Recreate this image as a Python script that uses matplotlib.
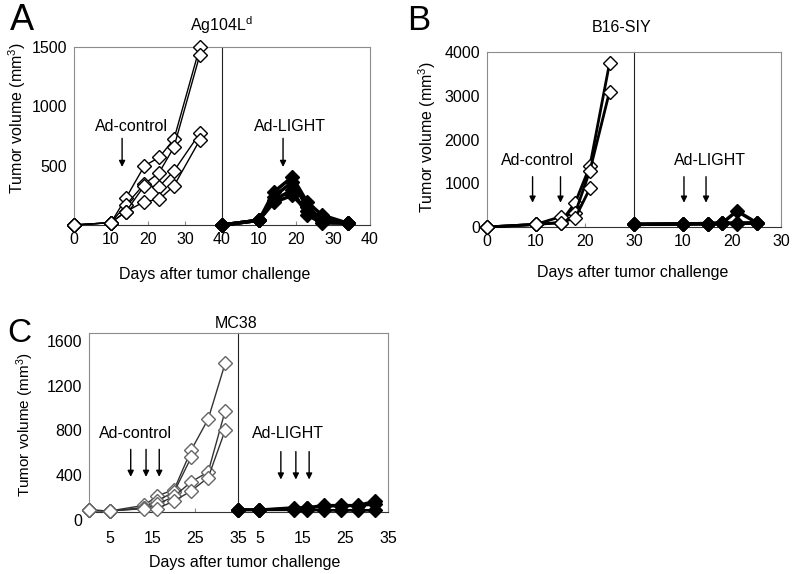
import matplotlib
matplotlib.use('Agg')
import matplotlib.pyplot as plt
from matplotlib.transforms import ScaledTranslation

plt.rcParams['font.family'] = ['Liberation Sans', 'DejaVu Sans']
plt.rcParams['mathtext.fontset'] = 'custom'
plt.rcParams['mathtext.rm'] = 'Liberation Sans'
plt.rcParams['mathtext.it'] = 'Liberation Sans:italic'

# ---------------- data ----------------
# Panel A : Ag104L^d
A_days = [0, 10, 14, 19, 23, 27, 34]
A_ctrl_1 = [0, 20, 225, 497, 570, 722, 1500]
A_ctrl_2 = [0, 20, 168, 345, 441, 655, 1433]
A_ctrl_3 = [0, 20, 112, 330, 323, 455, 773]
A_ctrl_4 = [0, 20, 112, 197, 216, 329, 716]
A_light_1 = [0, 40, 278, 405, 194, 84, 15]
A_light_2 = [0, 40, 240, 362, 150, 50, 15]
A_light_3 = [0, 40, 210, 295, 84, 17, 15]
A_light_4 = [0, 40, 190, 250, 120, 30, 15]

# Panel B : B16-SIY
B_days = [0, 10, 15, 18, 21, 25]
B_ctrl_1 = [0, 60, 100, 555, 1394, 3741]
B_ctrl_2 = [0, 60, 235, 320, 1287, 3093]
B_ctrl_3 = [0, 60, 100, 205, 884]
B_light_1 = [60, 70, 80, 90, 365, 100]
B_light_2 = [60, 70, 75, 85, 90, 95]
B_light_3 = [60, 70, 75, 85, 80, 90]

# Panel C : MC38
C_days = [0, 5, 13, 16, 20, 24, 28, 32]
C_ctrl_1 = [15, 10, 60, 144, 200, 553, 831, 1331]
C_ctrl_2 = [15, 10, 40, 100, 180, 488]
C_ctrl_3 = [15, 10, 33, 69, 140, 269, 359, 906]
C_ctrl_4 = [15, 10, 30, 30, 99, 188, 308, 733]
C_light_1 = [20, 20, 40, 40, 60, 60, 60, 99]
C_light_2 = [20, 20, 20, 20, 15, 15, 15, 15]
C_light_3 = [20, 20, 30, 35, 50, 55, 55, 70]

A_xticks_left = [0, 10, 20, 30, 40]
A_xticks_right = [10, 20, 30, 40]
A_yticks = [500, 1000, 1500]
B_xticks_left = [0, 10, 20, 30]
B_xticks_right = [10, 20, 30]
B_yticks = [0, 1000, 2000, 3000, 4000]
C_xticks_left = [5, 15, 25, 35]
C_xticks_right = [5, 15, 25, 35]
C_yticks = [0, 400, 800, 1200, 1600]

# ---------------- figure ----------------
W, H = 800, 574
fig = plt.figure(figsize=(8, 5.74), dpi=100)
FS = 11.5
GRAY = '#8c8c8c'


def ax_at(x0, x1, y0, y1):
    return fig.add_axes([x0 / W, 1 - y1 / H, (x1 - x0) / W, (y1 - y0) / H])


def style_pair(axL, axR, xlim, ylim, xtl, xtr, yt, xpad=5):
    for ax in (axL, axR):
        ax.set_xlim(*xlim)
        ax.set_ylim(*ylim)
        ax.set_facecolor('none')
        ax.tick_params(axis='x', direction='in', length=3, color=GRAY,
                       labelsize=FS, pad=xpad)
        ax.tick_params(axis='y', length=0, labelsize=FS, pad=5)
        ax.spines['top'].set_color(GRAY)
        ax.spines['bottom'].set_color('#333333')
    axL.spines['left'].set_color(GRAY)
    axL.spines['right'].set_color('#222222')
    axR.spines['left'].set_visible(False)
    axR.spines['right'].set_color(GRAY)
    axL.set_xticks(xtl)
    axR.set_xticks(xtr)
    axL.set_yticks(yt)
    axR.set_yticks(yt)
    axR.set_yticklabels([])


def plot_group(ax, days, series, filled, lw, ms, ec='black', lc='black'):
    for vals in series:
        ax.plot(days[:len(vals)], vals, color=lc, lw=lw, marker='D', ms=ms,
                mfc='black' if filled else 'white', mec=ec, mew=1.0,
                clip_on=False, zorder=3)


def arrow(ax, x, y0, y1):
    ax.annotate('', xy=(x, y1), xytext=(x, y0),
                arrowprops=dict(arrowstyle='-|>', color='black', lw=1,
                                mutation_scale=9, shrinkA=0, shrinkB=0))


# ---- Panel A ----
aL = ax_at(74, 222, 47, 225)
aR = ax_at(222, 370, 47, 225)
style_pair(aL, aR, (0, 40), (0, 1500), A_xticks_left, A_xticks_right, A_yticks)
plot_group(aL, A_days, [A_ctrl_1, A_ctrl_2, A_ctrl_3, A_ctrl_4], False, 1.0, 6.8)
plot_group(aR, A_days, [A_light_1, A_light_2, A_light_3, A_light_4], True, 2.5, 7.2)
aL.text(15.5, 830, 'Ad-control', ha='center', va='center', fontsize=FS)
arrow(aL, 13, 730, 489)
aR.text(18.5, 830, 'Ad-LIGHT', ha='center', va='center', fontsize=FS)
arrow(aR, 16.5, 730, 489)
fig.text(10 / W, 1 - 21 / H, 'A', fontsize=26, ha='left', va='center')
fig.text(221 / W, 1 - 25 / H, r'Ag104L$^{\mathrm{d}}$', fontsize=FS, ha='center', va='center')
fig.text(17 / W, 1 - 118 / H, r'Tumor volume (mm$^{3}$)', fontsize=FS,
         rotation=90, ha='center', va='center')
fig.text(215 / W, 1 - 275 / H, 'Days after tumor challenge', fontsize=FS,
         ha='center', va='center')

# ---- Panel B ----
bL = ax_at(487, 634, 52, 227)
bR = ax_at(634, 781, 52, 227)
style_pair(bL, bR, (0, 30), (0, 4000), B_xticks_left, B_xticks_right, B_yticks)
plot_group(bL, B_days, [B_ctrl_1, B_ctrl_2, B_ctrl_3], False, 2.0, 6.8)
plot_group(bR, B_days, [B_light_1, B_light_2, B_light_3], True, 2.5, 7.2)
bL.text(10.4, 1530, 'Ad-control', ha='center', va='center', fontsize=FS)
arrow(bL, 9.3, 1150, 555)
arrow(bL, 15.0, 1150, 555)
bR.text(15.5, 1530, 'Ad-LIGHT', ha='center', va='center', fontsize=FS)
arrow(bR, 10.2, 1150, 555)
arrow(bR, 14.7, 1150, 555)
fig.text(407 / W, 1 - 21 / H, 'B', fontsize=25, ha='left', va='center')
fig.text(622 / W, 1 - 28 / H, 'B16-SIY', fontsize=FS, ha='center', va='center')
fig.text(427 / W, 1 - 137 / H, r'Tumor volume (mm$^{3}$)', fontsize=FS,
         rotation=90, ha='center', va='center')
fig.text(633 / W, 1 - 273 / H, 'Days after tumor challenge', fontsize=FS,
         ha='center', va='center')

# ---- Panel C ----
cL = ax_at(89, 238, 333, 512)
cR = ax_at(238, 388, 333, 512)
style_pair(cL, cR, (0, 35), (0, 1600), C_xticks_left, C_xticks_right, C_yticks, xpad=14)
plot_group(cL, C_days, [C_ctrl_1, C_ctrl_2, C_ctrl_3, C_ctrl_4], False, 1.0, 6.8,
           ec='#666666', lc='#333333')
plot_group(cR, C_days, [C_light_1, C_light_2, C_light_3], True, 2.0, 7.2)
cL.text(10.8, 706, 'Ad-control', ha='center', va='center', fontsize=FS)
for d in (9.8, 13.4, 16.5):
    arrow(cL, d, 560, 314)
cR.text(11.7, 706, 'Ad-LIGHT', ha='center', va='center', fontsize=FS)
for d in (10.0, 13.5, 16.6):
    arrow(cR, d, 540, 290)
off = ScaledTranslation(0, -8 / 100, fig.dpi_scale_trans)
for lab in cL.get_yticklabels():
    lab.set_transform(lab.get_transform() + off)
fig.text(7 / W, 1 - 333 / H, 'C', fontsize=24, ha='left', va='center')
fig.text(236 / W, 1 - 323 / H, 'MC38', fontsize=FS, ha='center', va='center')
fig.text(25 / W, 1 - 425 / H, r'Tumor volume (mm$^{3}$)', fontsize=11,
         rotation=90, ha='center', va='center')
fig.text(245 / W, 1 - 562 / H, 'Days after tumor challenge', fontsize=FS,
         ha='center', va='center')

fig.savefig('out.png', dpi=100)
